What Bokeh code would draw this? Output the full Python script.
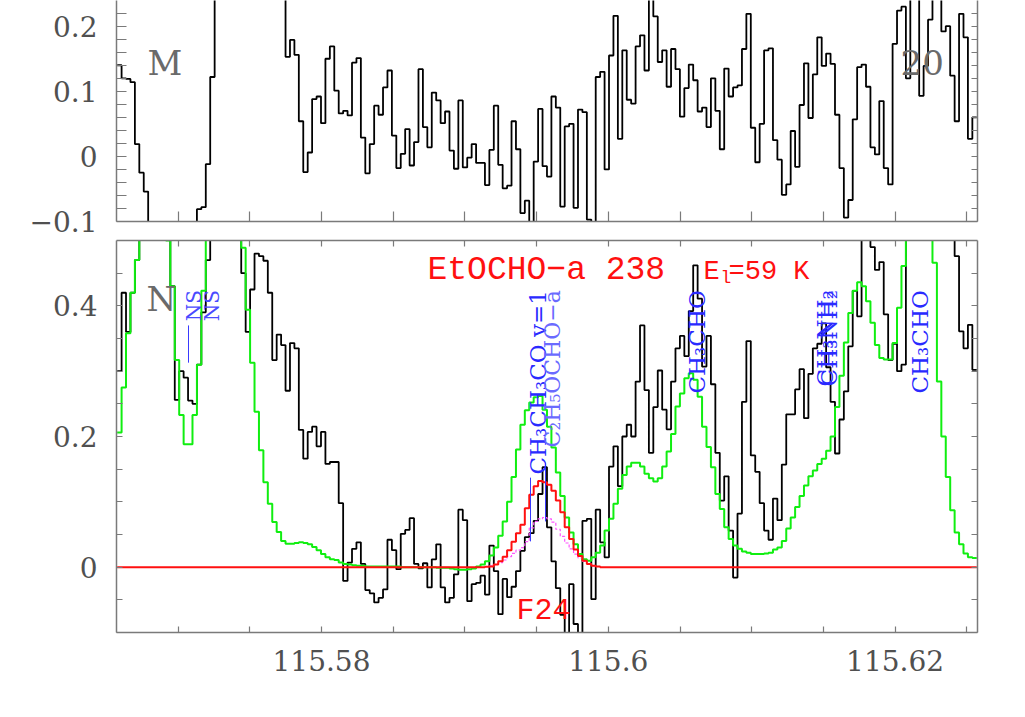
import numpy as np
from bokeh.plotting import figure
from bokeh.layouts import column
from bokeh.models import Range1d, LinearAxis, FixedTicker, CustomJSTickFormatter
from bokeh.core.properties import value
from bokeh.embed import file_html
from bokeh.resources import INLINE

# ---------------- data ----------------
freq_start = 115.56575      # GHz, left edge of first channel
chan_width = 0.000309       # GHz
x_min, x_max = 115.565704, 115.625746

# panel M (top) observed spectrum, one value per channel
spec_M = [0.14, 0.12, 0.119, 0.114, 0.019, -0.025, -0.054,
          -0.13, -0.16, -0.2, -0.22, -0.25, -0.25, -0.22, -0.2, -0.17, -0.14, -0.12,
          -0.081, -0.078, -0.012, 0.122,
          0.28, 0.33, 0.38, 0.42, 0.45, 0.47, 0.48, 0.47, 0.45, 0.42, 0.39, 0.36, 0.33, 0.3, 0.28, 0.26,
          0.153, 0.179, 0.156, 0.054, -0.024, 0.006, 0.088, 0.092, 0.051, 0.15,
          0.169, 0.101, 0.066, 0.07, 0.063, 0.144, 0.151, 0.029, -0.026, 0.019,
          0.078, 0.064, 0.106, 0.132, 0.032, -0.018, 0.004, 0.042, -0.014, 0.022,
          0.134, 0.045, 0.014, 0.098, 0.086, 0.051, 0.069, 0.009, -0.019, 0.086,
          -0.017, -0.002, 0.019, -0.01, -0.01, -0.044, 0.01, 0.078, -0.013, -0.049,
          -0.045, 0.054, 0.011, -0.087, -0.068, -0.11, -0.008, 0.073, -0.015, -0.031,
          0.092, 0.075, -0.077, 0.046, 0.05, -0.079, 0.072, 0.068, -0.097, -0.11,
          0.122, 0.13, -0.02, 0.155, 0.216, 0.027, 0.163, 0.087, 0.081, 0.169,
          0.186, 0.132, 0.26, 0.215, 0.145, 0.163, 0.107, 0.165, 0.134, 0.061,
          0.105, 0.141, 0.117, 0.069, 0.075, 0.045, 0.12, 0.07, 0.011, 0.135,
          0.092, 0.106, 0.109, 0.165, 0.219, 0.044, -0.009, 0.05, 0.163, 0.166,
          0.025, -0.005, -0.059, -0.043, 0.039, -0.016, 0.079, 0.143, 0.059, 0.126,
          0.183, 0.139, 0.158, 0.142, 0.064, -0.018, -0.094, -0.067, 0.057, 0.137,
          0.141, 0.107, 0.014, 0.003, 0.085, -0.018, -0.043, 0.173, 0.224, 0.23,
          0.12, 0.28, 0.26, 0.093, 0.139, 0.21, 0.27, 0.26, 0.192, 0.2,
          0.124, 0.054, 0.219, 0.183, 0.027, 0.06]

# panel N (bottom) observed spectrum
spec_N = [0.30, 0.42, 0.36, 0.42, 0.47, 0.56, 0.62, 0.65, 0.62, 0.58,
          0.55, 0.53, 0.43, 0.256, 0.30, 0.29, 0.255, 0.25, 0.31, 0.39,
          0.47, 0.55, 0.6, 0.65, 0.62, 0.58, 0.55, 0.52, 0.45, 0.36,
          0.425, 0.48, 0.476, 0.469, 0.42, 0.317, 0.356, 0.34, 0.27, 0.343,
          0.335, 0.21, 0.166, 0.207, 0.215, 0.185, 0.207, 0.158, 0.161, 0.161,
          0.098, -0.021, 0.007, 0.028, 0.038, 0.005, -0.035, -0.04, -0.054, -0.047,
          -0.034, 0.042, 0.026, -0.003, 0.051, 0.057, 0.075, 0.005, -0.002, 0.006,
          -0.031, 0.012, 0.035, -0.031, -0.054, -0.047, -0.011, 0.088, 0.072, -0.052,
          -0.026, -0.024, -0.013, -0.042, 0.033, -0.006, -0.072, -0.018, -0.046, -0.030,
          -0.006, 0.025, 0.046, 0.052, 0.071, 0.112, 0.153, 0.061, 0.009, -0.032,
          -0.073, -0.11, -0.026, -0.087, -0.11, 0.071, 0.074, -0.049, 0.088, 0.038,
          0.015, 0.154, 0.185, 0.124, 0.2, 0.218, 0.2, 0.284, 0.37, 0.271,
          0.175, 0.245, 0.301, 0.241, 0.211, 0.284, 0.335, 0.354, 0.323, 0.392,
          0.462, 0.411, 0.307, 0.354, 0.28, 0.175, 0.102, 0.139, 0.056, -0.016,
          0.082, 0.253, 0.346, 0.171, 0.146, 0.098, 0.056, 0.042, 0.105, 0.072,
          0.157, 0.234, 0.234, 0.272, 0.303, 0.228, 0.296, 0.335, 0.342, 0.373,
          0.306, 0.253, 0.174, 0.226, 0.269, 0.338, 0.423, 0.384, 0.55, 0.53,
          0.49, 0.455, 0.467, 0.387, 0.317, 0.342, 0.3, 0.31, 0.55, 0.6,
          0.65, 0.7, 0.7, 0.7, 0.65, 0.62, 0.58, 0.55, 0.52, 0.476,
          0.361, 0.335, 0.371, 0.302]

# full model (all species), green
model_all = [0.206, 0.275, 0.358, 0.42, 0.47, 0.6, 0.7, 0.75, 0.72, 0.65,
             0.56, 0.5, 0.43, 0.317, 0.233, 0.188, 0.188, 0.233, 0.31, 0.423,
             0.55, 0.65, 0.75, 0.85, 0.9, 0.88, 0.8, 0.62, 0.489, 0.394,
             0.313, 0.238, 0.179, 0.13, 0.097, 0.069, 0.054, 0.04, 0.036, 0.036,
             0.037, 0.038, 0.037, 0.035, 0.031, 0.026, 0.02, 0.015, 0.012, 0.011,
             0.007, 0.005, 0.004, 0.003, 0.002, 0.002, 0.001, 0.001, 0.001, 0.001,
             0.001, 0.001, 0.001, 0.001, 0.0, 0.0, 0.0, 0.0, 0.0, 0.0,
             0.0, 0.0, -0.001, -0.001, -0.001, -0.002, -0.003, -0.004, -0.004, -0.003,
             -0.002, 0.001, 0.004, 0.009, 0.018, 0.03, 0.048, 0.07, 0.1, 0.138,
             0.18, 0.218, 0.24, 0.252, 0.26, 0.262, 0.241, 0.215, 0.183, 0.145,
             0.109, 0.076, 0.053, 0.035, 0.02, 0.012, 0.01, 0.015, 0.022, 0.033,
             0.056, 0.074, 0.097, 0.12, 0.141, 0.154, 0.16, 0.16, 0.154, 0.143,
             0.136, 0.131, 0.136, 0.154, 0.177, 0.204, 0.246, 0.266, 0.289, 0.297,
             0.287, 0.261, 0.215, 0.184, 0.153, 0.112, 0.089, 0.061, 0.043, 0.033,
             0.028, 0.024, 0.022, 0.02, 0.02, 0.02, 0.021, 0.022, 0.027, 0.03,
             0.04, 0.059, 0.076, 0.092, 0.109, 0.125, 0.139, 0.148, 0.158, 0.166,
             0.178, 0.2, 0.245, 0.293, 0.344, 0.389, 0.423, 0.436, 0.43, 0.407,
             0.374, 0.34, 0.32, 0.318, 0.318, 0.343, 0.397, 0.461, 0.6, 0.75,
             0.85, 0.85, 0.75, 0.6, 0.466, 0.284, 0.2, 0.138, 0.087, 0.053,
             0.035, 0.021, 0.015, 0.014]

# EtOCHO-a model, red
model_etocho = ([0.0] * 83 +
                [0.0005, 0.001, 0.004, 0.009, 0.016, 0.026, 0.039, 0.052, 0.065, 0.09,
                 0.111, 0.124, 0.132, 0.13, 0.126, 0.117, 0.102, 0.084, 0.061, 0.043,
                 0.027, 0.017, 0.01, 0.005, 0.002, 0.001] +
                [0.0] * 85)

# second model component, magenta dashed
model_alt_first_channel = 84
model_alt = [0.002, 0.004, 0.007, 0.011, 0.016, 0.021, 0.026, 0.03, 0.039, 0.06,
             0.07, 0.074, 0.076, 0.074, 0.069, 0.058, 0.047, 0.037, 0.028, 0.02,
             0.014, 0.009, 0.005, 0.002]

# line identifications (blue)
label_freqs = [115.571074, 115.572329, 115.595063, 115.596109, 115.606220,
               115.615146, 115.615356, 115.621771]
label_texts = ["NS", "NS", "CH\u2083CH\u2083CO v=1", "C\u2082H\u2085OCHO\u2212a", "CH\u2083CHO",
               "CH\u2083NH\u2082", "CH\u2083NH\u2082", "CH\u2083CHO"]
label_sizes = ["20px", "20px", "23px", "22px", "23px", "23px", "23px", "23px"]
label_colors = ["#4a4aff", "#4a4aff", "#2a2aff", "#6a6aff", "#2a2aff", "#2a2aff", "#2a2aff", "#2a2aff"]
label_top = 0.424
marker_freqs = [115.570725, 115.594575, 115.595621]
marker_lo = [0.313, 0.0395, 0.07]
marker_hi = [0.37, 0.137, 0.16]

x_major = [115.58, 115.6, 115.62]
x_minor = [115.57, 115.575, 115.585, 115.59, 115.595, 115.605, 115.61, 115.615, 115.625]
yM_major = [-0.1, 0.0, 0.1, 0.2]
yM_minor = [-0.08, -0.06, -0.04, -0.02, 0.02, 0.04, 0.06, 0.08, 0.12, 0.14, 0.16, 0.18, 0.22]
yN_major = [0.0, 0.2, 0.4]
yN_minor = [-0.1, -0.05, 0.05, 0.1, 0.15, 0.25, 0.3, 0.35, 0.45]

# ---------------- helpers ----------------
AX = "#7a7a7a"
LAB = "#505050"
SERIF = "DejaVu Serif"
MONO = "Liberation Mono"


def steps(vals, first=0):
    v = np.asarray(vals, dtype=float)
    edges = freq_start + chan_width * (first + np.arange(len(v) + 1))
    return np.repeat(edges, 2)[1:-1], np.repeat(v, 2)


def style_axis(ax, major, minor, labels, tick_len):
    ax.ticker = FixedTicker(ticks=major, minor_ticks=minor)
    ax.axis_line_color = AX
    ax.axis_line_width = 1.5
    ax.major_tick_line_color = AX
    ax.minor_tick_line_color = AX
    ax.major_tick_line_width = 1.2
    ax.minor_tick_line_width = 1.2
    ax.major_tick_in = tick_len
    ax.major_tick_out = 0
    ax.minor_tick_in = tick_len
    ax.minor_tick_out = 0
    if labels:
        ax.formatter = CustomJSTickFormatter(
            code="return tick < 0 ? '\u2212' + String(-tick) : String(tick);")
        ax.major_label_text_font = SERIF
        ax.major_label_text_font_size = "28px"
        ax.major_label_text_color = LAB
    else:
        ax.formatter = CustomJSTickFormatter(code="return '';")
        ax.major_label_text_font_size = "0px"
        ax.major_label_standoff = 0


def make_fig(frame_h, y0, y1, top_border, bottom_border):
    p = figure(frame_width=861, frame_height=frame_h,
               x_range=Range1d(x_min, x_max), y_range=Range1d(y0, y1),
               output_backend="svg", toolbar_location=None,
               min_border_left=116, min_border_right=20,
               min_border_top=top_border, min_border_bottom=bottom_border)
    p.xgrid.visible = False
    p.ygrid.visible = False
    p.outline_line_color = None
    p.background_fill_color = "white"
    p.border_fill_color = "white"
    return p


# ---------------- top panel (M) ----------------
pt = make_fig(221, -0.1, 0.2395, 0, 18)
style_axis(pt.xaxis[0], x_major, x_minor, False, 10)
style_axis(pt.yaxis[0], yM_major, yM_minor, True, 10)
pt.yaxis[0].major_label_standoff = 19
rt = LinearAxis()
style_axis(rt, yM_major, yM_minor, False, 6)
pt.add_layout(rt, "right")

xs, ys = steps(spec_M)
pt.line(xs, ys, line_color="black", line_width=1.8)
pt.text(x=[115.567866, 115.620377], y=[0.144, 0.144], text=["M", "20"],
        text_font=value(SERIF), text_font_size=value("34px"), text_color="#6a6a6a",
        text_align="left", text_baseline="alphabetic")

# ---------------- bottom panel (N) ----------------
pb = make_fig(392, -0.1, 0.5, 1, 60)
style_axis(pb.xaxis[0], x_major, x_minor, True, 6)
pb.xaxis[0].major_label_standoff = 17
style_axis(pb.yaxis[0], yN_major, yN_minor, True, 6)
pb.yaxis[0].major_label_standoff = 19
rb = LinearAxis()
style_axis(rb, yN_major, yN_minor, False, 6)
pb.add_layout(rb, "right")
ab = LinearAxis()
style_axis(ab, x_major, x_minor, False, 6)
pb.add_layout(ab, "above")

xs, ys = steps(spec_N)
pb.line(xs, ys, line_color="black", line_width=1.8)
xs, ys = steps(model_all)
pb.line(xs, ys, line_color="#10ee10", line_width=2)
xs, ys = steps(model_alt, model_alt_first_channel)
pb.line(xs, ys, line_color="#ff55ff", line_width=1.2, line_dash="3 2")
xs, ys = steps(model_etocho)
pb.line(xs, ys, line_color="#ff1010", line_width=2)

pb.segment(x0=marker_freqs, y0=marker_lo, x1=marker_freqs, y1=marker_hi,
           line_color="#3a3aff", line_width=1)
pb.text(x=label_freqs, y=[label_top] * len(label_freqs), text=label_texts,
        text_font=value(SERIF), text_font_size=label_sizes, text_color=label_colors,
        angle=np.pi / 2, text_align="right", text_baseline="alphabetic")

pb.text(x=[115.567796], y=[0.410], text=["N"], text_font=value(SERIF),
        text_font_size=value("34px"), text_color="#6a6a6a",
        text_align="left", text_baseline="alphabetic")
pb.text(x=[115.587392], y=[0.4534], text=["EtOCHO\u2212a 238"], text_font=value(MONO),
        text_font_size=value("33px"), text_color="#ff1010",
        text_align="left", text_baseline="alphabetic")
pb.text(x=[115.606639, 115.608382], y=[0.452, 0.452], text=["E", "=59 K"],
        text_font=value(MONO), text_font_size=value("27px"), text_color="#ff1010",
        text_align="left", text_baseline="alphabetic")
pb.text(x=[115.607824], y=[0.442], text=["l"], text_font=value(MONO),
        text_font_size=value("18px"), text_color="#ff1010",
        text_align="left", text_baseline="alphabetic")
pb.text(x=[115.593598], y=[-0.0667], text=["F24"], text_font=value(MONO),
        text_font_size=value("30px"), text_color="#ff1010",
        text_align="left", text_baseline="alphabetic")

layout = column(pt, pb)
open("out.html", "w").write(file_html(layout, INLINE))
